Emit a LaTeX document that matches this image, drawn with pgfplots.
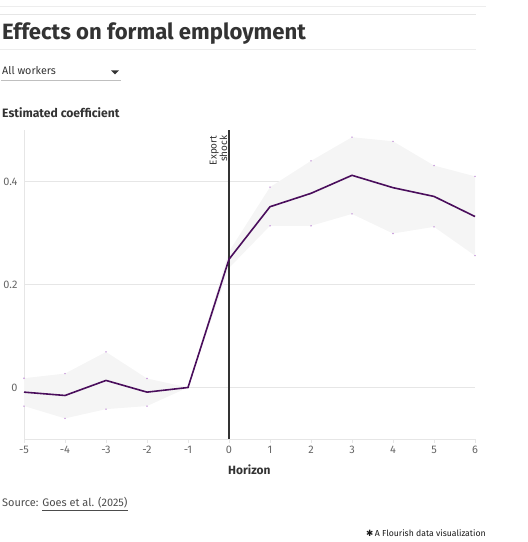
\documentclass[border=0pt]{standalone}
\usepackage{pgfplots}
\pgfplotsset{compat=1.18}
\usepackage{fontspec}
\setmainfont{Fira Sans}
\newfontfamily\symfont{DejaVu Sans}
\definecolor{linec}{HTML}{4A0E5C}
\definecolor{bandc}{HTML}{F5F5F5}
\definecolor{gridc}{HTML}{E6E6E6}
\definecolor{dotc}{HTML}{C79BDB}
\definecolor{txt}{HTML}{333333}
\definecolor{ticktxt}{HTML}{666666}
\begin{document}
\begin{tikzpicture}[x=1bp,y=1bp]
\path[use as bounding box] (0,0) rectangle (528,542);
\draw[gridc!70] (0,536) -- (486,536);
\draw[gridc] (0,528) -- (476,528);
\node[anchor=base west, font=\fontsize{22.2}{24}\selectfont\bfseries, text=txt, inner sep=0] at (2,502) {Effects on formal employment};
\draw[gridc!70] (0,493) -- (476,493);
\node[anchor=base west, font=\fontsize{10.8}{12}\selectfont, text=txt, inner sep=0] at (2,467.3) {All workers};
\fill[txt] (111,471.5) -- (119,471.5) -- (115,467.5) -- cycle;
\draw[black!25] (1,462) -- (121,462);
\node[anchor=base west, font=\fontsize{12.2}{14}\selectfont\bfseries, text=txt, inner sep=0] at (2,424.7) {Estimated coefficient};
\begin{axis}[at={(24bp,103bp)}, anchor=south west, scale only axis,
  width=451bp, height=309bp,
  xmin=-5, xmax=6, ymin=-0.1, ymax=0.5,
  axis lines=left, axis line style={-, draw=gridc},
  xtick={-5,...,6}, ytick={0,0.2,0.4},
  ymajorgrids, grid style={gridc},
  tick align=outside, major tick length=4bp,
  xtick style={draw=gridc}, ytick style={draw=none},
  /pgf/number format/assume math mode=true,
  ticklabel style={font=\fontsize{11}{13}\selectfont, text=ticktxt},
  yticklabel style={xshift=1bp},
  clip=false]
\addplot[fill=bandc, draw=none] coordinates {(-5,0.018)(-4,0.027)(-3,0.069)(-2,0.0175)(-1,0)(0,0.264)(1,0.389)(2,0.44)(3,0.486)(4,0.478)(5,0.431)(6,0.41)(6,0.256)(5,0.312)(4,0.299)(3,0.337)(2,0.314)(1,0.314)(0,0.232)(-1,0)(-2,-0.036)(-3,-0.042)(-4,-0.06)(-5,-0.036)} -- cycle;
\addplot[only marks, mark=*, mark size=0.5bp, color=dotc] coordinates {(-5,0.018)(-4,0.027)(-3,0.069)(-2,0.0175)(1,0.389)(2,0.44)(3,0.486)(4,0.478)(5,0.431)(6,0.41)(6,0.256)(5,0.312)(4,0.299)(3,0.337)(2,0.314)(1,0.314)(-2,-0.036)(-3,-0.042)(-4,-0.06)(-5,-0.036)};
\addplot[txt, line width=1.4bp] coordinates {(0,-0.1)(0,0.5)};
\addplot[linec, line width=1.6bp] coordinates {(-5,-0.009)(-4,-0.0155)(-3,0.0137)(-2,-0.009)(-1,0)(0,0.249)(1,0.351)(2,0.377)(3,0.412)(4,0.388)(5,0.371)(6,0.332)};
\node[rotate=90, anchor=south east, align=right, font=\fontsize{10}{10.5}\selectfont, text=txt, inner sep=1.5bp] at (axis cs:0,0.492) {Export\\shock};
\end{axis}
\node[anchor=base west, font=\fontsize{12}{14}\selectfont\bfseries, text=txt, inner sep=0] at (228,67) {Horizon};
\node[anchor=base west, font=\fontsize{11}{13}\selectfont, text=black!70, inner sep=0] at (2,35) {Source: \underline{Goes et al. (2025)}};
\node[anchor=base west, font=\fontsize{8.7}{10}\selectfont, text=black!90, inner sep=0] at (366,5) {{\symfont ✱}\,A Flourish data visualization};
\end{tikzpicture}
\end{document}
